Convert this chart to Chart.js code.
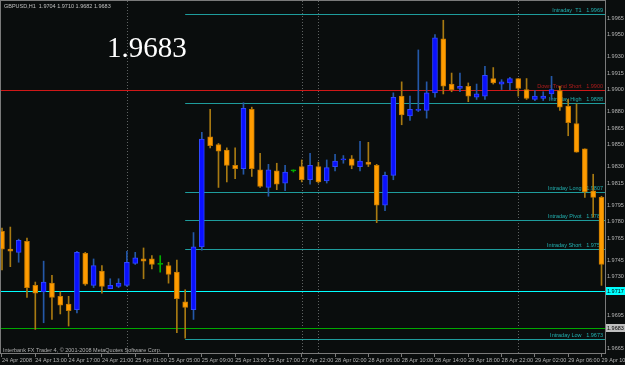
<!DOCTYPE html>
<html>
<head>
<meta charset="utf-8">
<title>GBPUSD,H1</title>
<script src="https://cdn.jsdelivr.net/npm/chart.js@4.4.1/dist/chart.umd.min.js"></script>
<style>
  html, body { margin: 0; padding: 0; background: #0a0d0d; }
  canvas { display: block; }
</style>
</head>
<body>
<canvas id="myChart" width="625" height="365"></canvas>
<script>
// hourly bars, 24 Apr 2008 09:00 .. 29 Apr 2008 10:00
let opens = [
  1.9771, 1.9755, 1.9752, 1.9762, 1.9722, 1.9716, 1.9724, 1.9712, 1.9705, 1.9700,
  1.9751, 1.9722, 1.9735, 1.9719, 1.9721, 1.9722, 1.9742, 1.9746, 1.9746, 1.9741,
  1.9740, 1.9734, 1.9707, 1.9700, 1.9757, 1.9857, 1.9850, 1.9845, 1.9831, 1.9828,
  1.9882, 1.9827, 1.9811, 1.9826, 1.9815, 1.9826, 1.9830, 1.9818, 1.9830, 1.9817,
  1.9830, 1.9836, 1.9837, 1.9830, 1.9834, 1.9831, 1.9795, 1.9822, 1.9894, 1.9876,
  1.9881, 1.9881, 1.9897, 1.9946, 1.9905, 1.9901, 1.9903, 1.9893, 1.9894, 1.9910,
  1.9905, 1.9906, 1.9910, 1.9900, 1.9891, 1.9892, 1.9896, 1.9899, 1.9885, 1.9869,
  1.9846, 1.9808, 1.9802
];
let highs = [
  1.9774, 1.9775, 1.9764, 1.9765, 1.9725, 1.9744, 1.9731, 1.9716, 1.9712, 1.9753,
  1.9752, 1.9746, 1.9740, 1.9728, 1.9728, 1.9753, 1.9752, 1.9756, 1.9749, 1.9749,
  1.9743, 1.9745, 1.9718, 1.9770, 1.9861, 1.9882, 1.9851, 1.9847, 1.9847, 1.9888,
  1.9884, 1.9842, 1.9832, 1.9833, 1.9831, 1.9827, 1.9836, 1.9842, 1.9834, 1.9836,
  1.9841, 1.9840, 1.9840, 1.9853, 1.9852, 1.9832, 1.9825, 1.9897, 1.9907, 1.9894,
  1.9936, 1.9907, 1.9950, 1.9963, 1.9915, 1.9915, 1.9906, 1.9905, 1.9921, 1.9920,
  1.9909, 1.9911, 1.9910, 1.9910, 1.9899, 1.9898, 1.9912, 1.9903, 1.9891, 1.9887,
  1.9846, 1.9823, 1.9803
];
let lows = [
  1.9736, 1.9739, 1.9743, 1.9711, 1.9682, 1.9688, 1.9691, 1.9696, 1.9685, 1.9697,
  1.9722, 1.9720, 1.9715, 1.9719, 1.9720, 1.9721, 1.9741, 1.9728, 1.9737, 1.9734,
  1.9724, 1.9679, 1.9674, 1.9691, 1.9754, 1.9847, 1.9811, 1.9816, 1.9819, 1.9823,
  1.9821, 1.9811, 1.9803, 1.9809, 1.9808, 1.9825, 1.9816, 1.9814, 1.9815, 1.9815,
  1.9826, 1.9833, 1.9828, 1.9826, 1.9830, 1.9779, 1.9790, 1.9818, 1.9868, 1.9872,
  1.9880, 1.9874, 1.9893, 1.9896, 1.9898, 1.9898, 1.9889, 1.9891, 1.9891, 1.9905,
  1.9900, 1.9900, 1.9894, 1.9891, 1.9890, 1.9890, 1.9891, 1.9881, 1.9858, 1.9843,
  1.9802, 1.9784, 1.9722
];
let closes = [
  1.9755, 1.9753, 1.9763, 1.9720, 1.9715, 1.9725, 1.9711, 1.9704, 1.9699, 1.9752,
  1.9723, 1.9740, 1.9721, 1.9722, 1.9724, 1.9743, 1.9747, 1.9744, 1.9741, 1.9741,
  1.9732, 1.9710, 1.9702, 1.9757, 1.9855, 1.9849, 1.9844, 1.9831, 1.9828, 1.9883,
  1.9828, 1.9812, 1.9827, 1.9814, 1.9825, 1.9826, 1.9818, 1.9831, 1.9816, 1.9829,
  1.9835, 1.9837, 1.9831, 1.9835, 1.9832, 1.9795, 1.9822, 1.9893, 1.9877, 1.9882,
  1.9882, 1.9897, 1.9947, 1.9903, 1.9900, 1.9903, 1.9894, 1.9896, 1.9913, 1.9906,
  1.9907, 1.9910, 1.9901, 1.9892, 1.9894, 1.9894, 1.9900, 1.9884, 1.9870, 1.9843,
  1.9807, 1.9802, 1.9741
];

// time axis: a label every 4 bars
let timeTickIdx = [0, 4, 8, 12, 16, 20, 24, 28, 32, 36, 40, 44, 48, 52, 56, 60, 64, 68, 72];
let timeLabels = [
  '24 Apr 2008', '24 Apr 13:00', '24 Apr 17:00', '24 Apr 21:00', '25 Apr 01:00',
  '25 Apr 05:00', '25 Apr 09:00', '25 Apr 13:00', '25 Apr 17:00', '27 Apr 22:00',
  '28 Apr 02:00', '28 Apr 06:00', '28 Apr 10:00', '28 Apr 14:00', '28 Apr 18:00',
  '28 Apr 22:00', '29 Apr 02:00', '29 Apr 06:00', '29 Apr 10:00'
];
// first bar of each new day
let daySeparators = [15, 36, 38, 62];

// price axis labels
let priceTicks = [1.9965, 1.9950, 1.9930, 1.9915, 1.9900, 1.9880, 1.9865, 1.9850, 1.9830,
  1.9815, 1.9795, 1.9780, 1.9765, 1.9745, 1.9730, 1.9695, 1.9665];

// indicator levels
let levelNames = ['Intraday  T1', 'Down Trend Short', 'Intraday High', 'Intraday Long',
  'Intraday Pivot', 'Intraday Short', 'Intraday Low'];
let levelValues = [1.9969, 1.9900, 1.9888, 1.9807, 1.9781, 1.9755, 1.9673];

let hLinePrice = 1.9717;
let bidPrice = 1.9683;
let title = 'GBPUSD,H1  1.9704 1.9710 1.9682 1.9683';
let copyright = 'Interbank FX Trader 4, \u00a9 2001-2008 MetaQuotes Software Corp.';

// candle colours
function candleColor(i, up, down, flat) {
  if (closes[i] > opens[i]) return up;
  if (closes[i] < opens[i]) return down;
  return flat;
}

let bodyData = opens.map((o, i) => ({ x: i, y: [o, closes[i]] }));
let wickData = opens.map((o, i) => ({ x: i, y: [lows[i], highs[i]] }));

const smallFont = '5.5px "Liberation Sans"';

// MetaTrader style extras: background, separators, levels, captions
const mtPlugin = {
  id: 'mt',
  beforeDraw(chart) {
    let c = chart.ctx;
    c.save();
    c.fillStyle = '#0a0d0d';
    c.fillRect(0, 0, chart.width, chart.height);
    c.restore();
  },
  beforeDatasetsDraw(chart) {
    let c = chart.ctx;
    let a = chart.chartArea;
    let x = chart.scales.x, y = chart.scales.y;
    c.save();
    c.lineWidth = 1;

    // day separators
    c.strokeStyle = '#5e6262';
    c.setLineDash([1, 2]);
    daySeparators.forEach(i => {
      let px = Math.round(x.getPixelForValue(i)) + 0.5;
      c.beginPath();
      c.moveTo(px, a.top);
      c.lineTo(px, a.bottom);
      c.stroke();
    });
    c.setLineDash([]);

    // full width lines
    let full = [[hLinePrice, '#00ffff'], [bidPrice, '#00a800']];
    full.forEach(([v, col]) => {
      let py = Math.round(y.getPixelForValue(v)) + 0.5;
      c.strokeStyle = col;
      c.beginPath();
      c.moveTo(a.left, py);
      c.lineTo(a.right, py);
      c.stroke();
    });

    // level lines with captions
    c.font = smallFont;
    c.textAlign = 'right';
    c.textBaseline = 'bottom';
    levelNames.forEach((name, k) => {
      let v = levelValues[k];
      let py = Math.round(y.getPixelForValue(v)) + 0.5;
      let isTrend = name === 'Down Trend Short';
      let x0 = isTrend ? a.left : x.getPixelForValue(22);
      c.strokeStyle = isTrend ? '#d01818' : '#1e9c9c';
      c.beginPath();
      c.moveTo(x0, py);
      c.lineTo(a.right, py);
      c.stroke();
      c.fillStyle = isTrend ? '#b01c1c' : '#22b0b0';
      c.fillText(name + '   ' + v.toFixed(4), a.right - 2, py - 1);
    });
    c.restore();
  },
  afterDraw(chart) {
    let c = chart.ctx;
    let a = chart.chartArea;
    let y = chart.scales.y;
    c.save();

    // window frame
    c.strokeStyle = '#7a7a7a';
    c.lineWidth = 1;
    c.strokeRect(0.5, 0.5, a.right, a.bottom);

    // price boxes on the axis
    c.font = smallFont;
    c.textAlign = 'left';
    c.textBaseline = 'middle';
    [[hLinePrice, '#00ffff'], [bidPrice, '#c0c0c0']].forEach(([v, bg]) => {
      let py = Math.round(y.getPixelForValue(v));
      c.fillStyle = bg;
      c.fillRect(a.right + 1, py - 4, 19, 8);
      c.fillStyle = '#000000';
      c.fillText(v.toFixed(4), a.right + 2, py + 0.5);
    });

    // title and copyright
    c.fillStyle = '#c0c0c0';
    c.textBaseline = 'middle';
    c.fillText(title, 4, 6);
    c.fillStyle = '#b0b0b0';
    c.textBaseline = 'alphabetic';
    c.fillText(copyright, 3, 352);

    // big bid price
    c.fillStyle = '#ffffff';
    c.font = '29px "Liberation Serif"';
    c.fillText(bidPrice.toFixed(4), 107, 57);
    c.restore();
  }
};

let ctx = document.getElementById('myChart').getContext('2d');

let myChart = new Chart(ctx, {
  type: 'bar',
  data: {
    datasets: [
      {
        label: 'body',
        data: bodyData,
        order: 0,
        grouped: false,
        barThickness: 5,
        minBarLength: 1,
        borderWidth: 1,
        borderSkipped: false,
        backgroundColor: c => candleColor(c.dataIndex, '#0a10ff', '#ff9c00', '#00b000'),
        borderColor: c => candleColor(c.dataIndex, '#3048ff', '#c47800', '#00b000')
      },
      {
        label: 'wick',
        data: wickData,
        order: 1,
        grouped: false,
        barThickness: 1,
        borderWidth: 0,
        backgroundColor: c => candleColor(c.dataIndex, '#2458a8', '#a87a12', '#00b000')
      }
    ]
  },
  options: {
    responsive: false,
    animation: false,
    devicePixelRatio: 1,
    layout: { padding: { left: 1, top: 1, right: 0, bottom: 0 } },
    plugins: {
      legend: { display: false },
      tooltip: { enabled: false }
    },
    scales: {
      x: {
        type: 'linear',
        min: -0.12,
        max: 72.42,
        offset: false,
        grid: { drawOnChartArea: false, drawTicks: true, tickLength: 4, color: '#7a7a7a', offset: false },
        border: { color: '#7a7a7a' },
        ticks: {
          align: 'start',
          autoSkip: false,
          maxRotation: 0,
          padding: 0,
          color: '#b4b4b4',
          font: { family: 'Liberation Sans', size: 5.5 },
          callback: v => {
            let k = timeTickIdx.indexOf(v);
            return k < 0 ? '' : timeLabels[k];
          }
        },
        afterBuildTicks: s => { s.ticks = timeTickIdx.map(v => ({ value: v })); },
        afterFit: s => { s.height = 12; s.paddingLeft = 0; s.paddingRight = 0; }
      },
      y: {
        position: 'right',
        min: 1.96605,
        max: 1.99805,
        grid: { drawOnChartArea: false, drawTicks: false },
        border: { color: '#7a7a7a' },
        ticks: {
          padding: 2,
          color: '#b4b4b4',
          font: { family: 'Liberation Sans', size: 5.5 },
          callback: v => v.toFixed(4)
        },
        afterBuildTicks: s => { s.ticks = priceTicks.map(v => ({ value: v })); },
        afterFit: s => { s.width = 20; s.paddingTop = 0; s.paddingBottom = 0; }
      }
    }
  },
  plugins: [mtPlugin]
});
</script>
</body>
</html>
